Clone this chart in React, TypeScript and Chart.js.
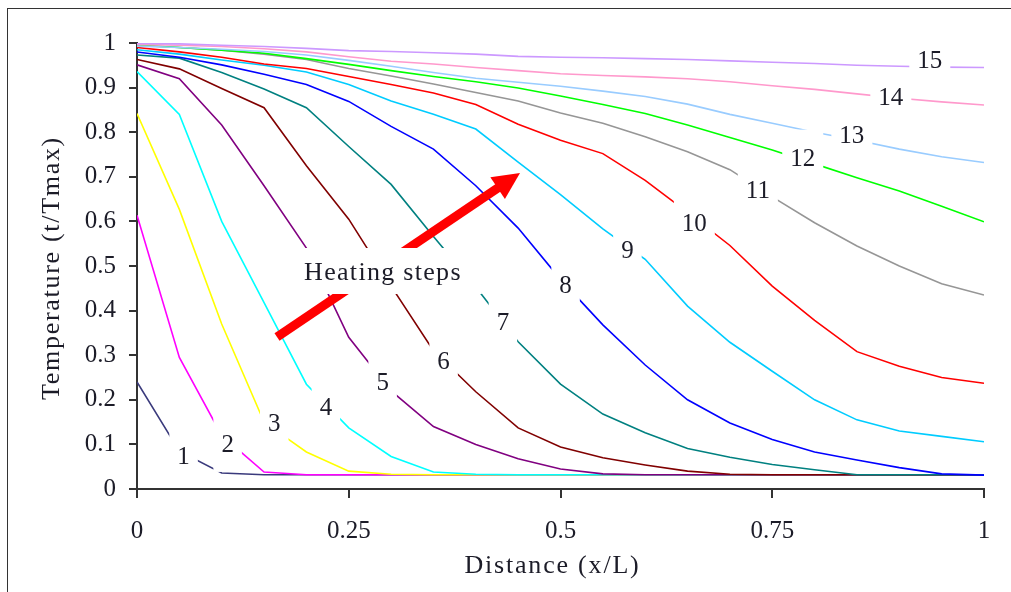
import React, { useEffect, useRef } from 'react';
import { Chart, registerables } from 'chart.js';

Chart.register(...registerables);

// ---- data ----
const xValues = [0, 0.05, 0.1, 0.15, 0.2, 0.25, 0.3, 0.35, 0.4, 0.45, 0.5, 0.55, 0.6, 0.65, 0.7, 0.75, 0.8, 0.85, 0.9, 0.95, 1];

const step1 = [0.24, 0.085, 0.036, 0.032, 0.032, 0.032, 0.032, 0.032, 0.032, 0.032, 0.032, 0.032, 0.032, 0.032, 0.032, 0.032, 0.032, 0.032, 0.032, 0.032, 0.032];
const step2 = [0.614, 0.295, 0.12, 0.038, 0.032, 0.032, 0.032, 0.032, 0.032, 0.032, 0.032, 0.032, 0.032, 0.032, 0.032, 0.032, 0.032, 0.032, 0.032, 0.032, 0.032];
const step3 = [0.842, 0.627, 0.37, 0.15, 0.083, 0.04, 0.033, 0.032, 0.032, 0.032, 0.032, 0.032, 0.032, 0.032, 0.032, 0.032, 0.032, 0.032, 0.032, 0.032, 0.032];
const step4 = [0.936, 0.84, 0.6, 0.418, 0.235, 0.137, 0.073, 0.038, 0.033, 0.032, 0.032, 0.032, 0.032, 0.032, 0.032, 0.032, 0.032, 0.032, 0.032, 0.032, 0.032];
const step5 = [0.951, 0.92, 0.816, 0.68, 0.54, 0.34, 0.22, 0.14, 0.1, 0.068, 0.045, 0.034, 0.032, 0.032, 0.032, 0.032, 0.032, 0.032, 0.032, 0.032, 0.032];
const step6 = [0.963, 0.942, 0.898, 0.855, 0.725, 0.605, 0.455, 0.31, 0.218, 0.137, 0.094, 0.07, 0.054, 0.04, 0.033, 0.032, 0.032, 0.032, 0.032, 0.032, 0.032];
const step7 = [0.973, 0.966, 0.934, 0.897, 0.855, 0.768, 0.683, 0.566, 0.453, 0.33, 0.235, 0.168, 0.126, 0.091, 0.071, 0.055, 0.043, 0.032, 0.032, 0.032, 0.032];
const step8 = [0.98, 0.968, 0.951, 0.93, 0.907, 0.869, 0.813, 0.762, 0.68, 0.585, 0.47, 0.368, 0.278, 0.2, 0.148, 0.111, 0.083, 0.065, 0.048, 0.034, 0.031];
const step9 = [0.985, 0.975, 0.962, 0.95, 0.935, 0.907, 0.87, 0.84, 0.807, 0.733, 0.66, 0.583, 0.515, 0.41, 0.329, 0.264, 0.2, 0.155, 0.13, 0.118, 0.106];
const step10 = [0.99, 0.98, 0.968, 0.953, 0.943, 0.925, 0.907, 0.888, 0.862, 0.818, 0.782, 0.752, 0.692, 0.62, 0.546, 0.455, 0.378, 0.308, 0.275, 0.25, 0.237];
const step11 = [0.995, 0.99, 0.984, 0.975, 0.963, 0.943, 0.926, 0.908, 0.889, 0.87, 0.843, 0.82, 0.79, 0.756, 0.716, 0.655, 0.597, 0.545, 0.5, 0.46, 0.435];
const step12 = [0.995, 0.99, 0.984, 0.977, 0.965, 0.952, 0.938, 0.925, 0.913, 0.899, 0.881, 0.862, 0.842, 0.816, 0.788, 0.76, 0.729, 0.698, 0.668, 0.634, 0.599];
const step13 = [0.993, 0.99, 0.986, 0.981, 0.973, 0.961, 0.948, 0.934, 0.921, 0.912, 0.903, 0.892, 0.88, 0.863, 0.84, 0.82, 0.8, 0.782, 0.762, 0.745, 0.732];
const step14 = [0.997, 0.995, 0.992, 0.987, 0.98, 0.969, 0.959, 0.953, 0.945, 0.938, 0.931, 0.927, 0.924, 0.92, 0.913, 0.904, 0.896, 0.886, 0.876, 0.868, 0.861];
const step15 = [0.999, 0.998, 0.995, 0.992, 0.988, 0.983, 0.981, 0.978, 0.975, 0.97, 0.968, 0.967, 0.965, 0.963, 0.96, 0.957, 0.954, 0.95, 0.948, 0.946, 0.945];

const seriesValues = [step1, step2, step3, step4, step5, step6, step7, step8, step9, step10, step11, step12, step13, step14, step15];
const seriesNames = ['1', '2', '3', '4', '5', '6', '7', '8', '9', '10', '11', '12', '13', '14', '15'];
const seriesColors = ['#3a3a7c', '#ff00ff', '#ffff00', '#00ffff', '#800080', '#800000', '#008080', '#0000ff', '#00ccff', '#ff0000', '#969696', '#00ff00', '#99ccff', '#ff99cc', '#cc99ff'];

// curve label anchors (data units)
const labelXs = [0.055, 0.107, 0.162, 0.223, 0.29, 0.362, 0.432, 0.506, 0.579, 0.658, 0.733, 0.786, 0.844, 0.89, 0.936];
const labelYs = [0.076, 0.101, 0.15, 0.186, 0.241, 0.289, 0.375, 0.458, 0.536, 0.598, 0.672, 0.743, 0.795, 0.881, 0.964];

const xTicks = [0, 0.25, 0.5, 0.75, 1];
const yTicks = [0, 0.1, 0.2, 0.3, 0.4, 0.5, 0.6, 0.7, 0.8, 0.9, 1];

const arrowTail = [0.1653, 0.3408];
const arrowTip = [0.4522, 0.7085];
const noteText = 'Heating steps';
const notePos = [0.2904, 0.4888];

const xTitle = 'Distance (x/L)';
const yTitle = 'Temperature (t/Tmax)';

const FONT = '"Liberation Serif", "Times New Roman", serif';
const TEXT = '#1c1c28';

const overlayPlugin = {
  id: 'overlay',
  afterDatasetsDraw(chart: any) {
    const ctx = chart.ctx as CanvasRenderingContext2D;
    const xs = chart.scales.x;
    const ys = chart.scales.y;
    const area = chart.chartArea;

    // arrow
    const tx = xs.getPixelForValue(arrowTail[0]);
    const ty = ys.getPixelForValue(arrowTail[1]);
    const hx = xs.getPixelForValue(arrowTip[0]);
    const hy = ys.getPixelForValue(arrowTip[1]);
    const dx = hx - tx;
    const dy = hy - ty;
    const len = Math.hypot(dx, dy);
    const ux = dx / len;
    const uy = dy / len;
    const headLen = 27;
    const headHalf = 13;
    const bx = hx - ux * headLen;
    const by = hy - uy * headLen;
    ctx.save();
    ctx.strokeStyle = '#ff0000';
    ctx.fillStyle = '#ff0000';
    ctx.lineWidth = 9;
    ctx.lineCap = 'butt';
    ctx.beginPath();
    ctx.moveTo(tx, ty);
    ctx.lineTo(bx + ux * 2, by + uy * 2);
    ctx.stroke();
    ctx.beginPath();
    ctx.moveTo(hx, hy);
    ctx.lineTo(bx - uy * headHalf, by + ux * headHalf);
    ctx.lineTo(bx + uy * headHalf, by - ux * headHalf);
    ctx.closePath();
    ctx.fill();
    ctx.restore();

    // note box + text
    ctx.save();
    const nx = xs.getPixelForValue(notePos[0]);
    const ny = ys.getPixelForValue(notePos[1]);
    ctx.font = `26px ${FONT}`;
    (ctx as any).letterSpacing = '1.3px';
    const nw = ctx.measureText(noteText).width;
    ctx.fillStyle = '#ffffff';
    ctx.fillRect(nx - nw / 2 - 20, ny - 23, nw + 40, 46);
    ctx.fillStyle = TEXT;
    ctx.textAlign = 'center';
    ctx.textBaseline = 'alphabetic';
    ctx.fillText(noteText, nx, ny + 9);
    ctx.restore();

    // curve labels (white text boxes over the curves)
    ctx.save();
    ctx.font = `25px ${FONT}`;
    ctx.textAlign = 'center';
    ctx.textBaseline = 'alphabetic';
    for (let i = 0; i < seriesNames.length; i++) {
      const px = xs.getPixelForValue(labelXs[i]);
      const py = ys.getPixelForValue(labelYs[i]);
      const w = ctx.measureText(seriesNames[i]).width;
      ctx.fillStyle = '#ffffff';
      ctx.fillRect(px - w / 2 - 8, py - 28, w + 16, 56);
    }
    ctx.fillStyle = TEXT;
    for (let i = 0; i < seriesNames.length; i++) {
      const px = xs.getPixelForValue(labelXs[i]);
      const py = ys.getPixelForValue(labelYs[i]);
      ctx.fillText(seriesNames[i], px, py + 8.5);
    }
    ctx.restore();

    // axis titles
    ctx.save();
    ctx.fillStyle = TEXT;
    ctx.font = `26px ${FONT}`;
    (ctx as any).letterSpacing = '1.8px';
    ctx.textAlign = 'center';
    ctx.textBaseline = 'middle';
    ctx.fillText(xTitle, (area.left + area.right) / 2 - 8, area.bottom + 77);
    (ctx as any).letterSpacing = '1.7px';
    ctx.translate(44, (area.top + area.bottom) / 2 + 2);
    ctx.rotate(-Math.PI / 2);
    ctx.fillText(yTitle, 0, 0);
    ctx.restore();
  },
};

const CW = 1003;
const CH = 583;

export default function App() {
  const canvasRef = useRef<HTMLCanvasElement | null>(null);

  useEffect(() => {
    if (!canvasRef.current) return;
    const datasets = seriesValues.map((vals, i) => ({
      label: seriesNames[i],
      data: xValues.map((x, j) => ({ x, y: vals[j] })),
      borderColor: seriesColors[i],
      backgroundColor: seriesColors[i],
      borderWidth: 1.6,
      pointRadius: 0,
      tension: 0,
      fill: false,
      order: seriesValues.length - i,
    }));

    const chart = new Chart(canvasRef.current, {
      type: 'line',
      data: { datasets },
      options: {
        animation: false,
        responsive: false,
        maintainAspectRatio: false,
        events: [],
        layout: { autoPadding: false, padding: { left: 0, right: 27, top: 34, bottom: 0 } },
        plugins: { legend: { display: false }, tooltip: { enabled: false }, title: { display: false } },
        scales: {
          x: {
            type: 'linear',
            min: 0,
            max: 1,
            afterFit: (s: any) => { s.height = CH - 480; },
            afterBuildTicks: (s: any) => { s.ticks = xTicks.map((v) => ({ value: v })); },
            grid: { display: true, drawOnChartArea: false, drawTicks: true, tickLength: 9, color: '#333333', lineWidth: 2 },
            border: { display: true, color: '#333333', width: 2 },
            ticks: {
              font: { family: FONT, size: 25 },
              color: TEXT,
              padding: 18,
              maxRotation: 0,
              autoSkip: false,
              callback: (v: any) => String(v),
            },
          },
          y: {
            type: 'linear',
            min: 0,
            max: 1,
            afterFit: (s: any) => { s.width = 129; },
            afterBuildTicks: (s: any) => { s.ticks = yTicks.map((v) => ({ value: v })); },
            grid: { display: true, drawOnChartArea: false, drawTicks: true, tickLength: 8, color: '#333333', lineWidth: 2 },
            border: { display: true, color: '#333333', width: 2 },
            ticks: {
              font: { family: FONT, size: 25 },
              color: TEXT,
              padding: 13,
              autoSkip: false,
              callback: (v: any) => String(Math.round(Number(v) * 100) / 100),
            },
          },
        },
      },
      plugins: [overlayPlugin],
    });
    return () => chart.destroy();
  }, []);

  return (
    <div
      style={{
        position: 'fixed',
        left: 7,
        top: 8,
        width: CW,
        height: CH,
        borderLeft: '1px solid #333',
        borderTop: '1px solid #333',
        background: '#fff',
      }}
    >
      <canvas ref={canvasRef} width={CW} height={CH} style={{ display: 'block', width: CW, height: CH }} />
    </div>
  );
}
